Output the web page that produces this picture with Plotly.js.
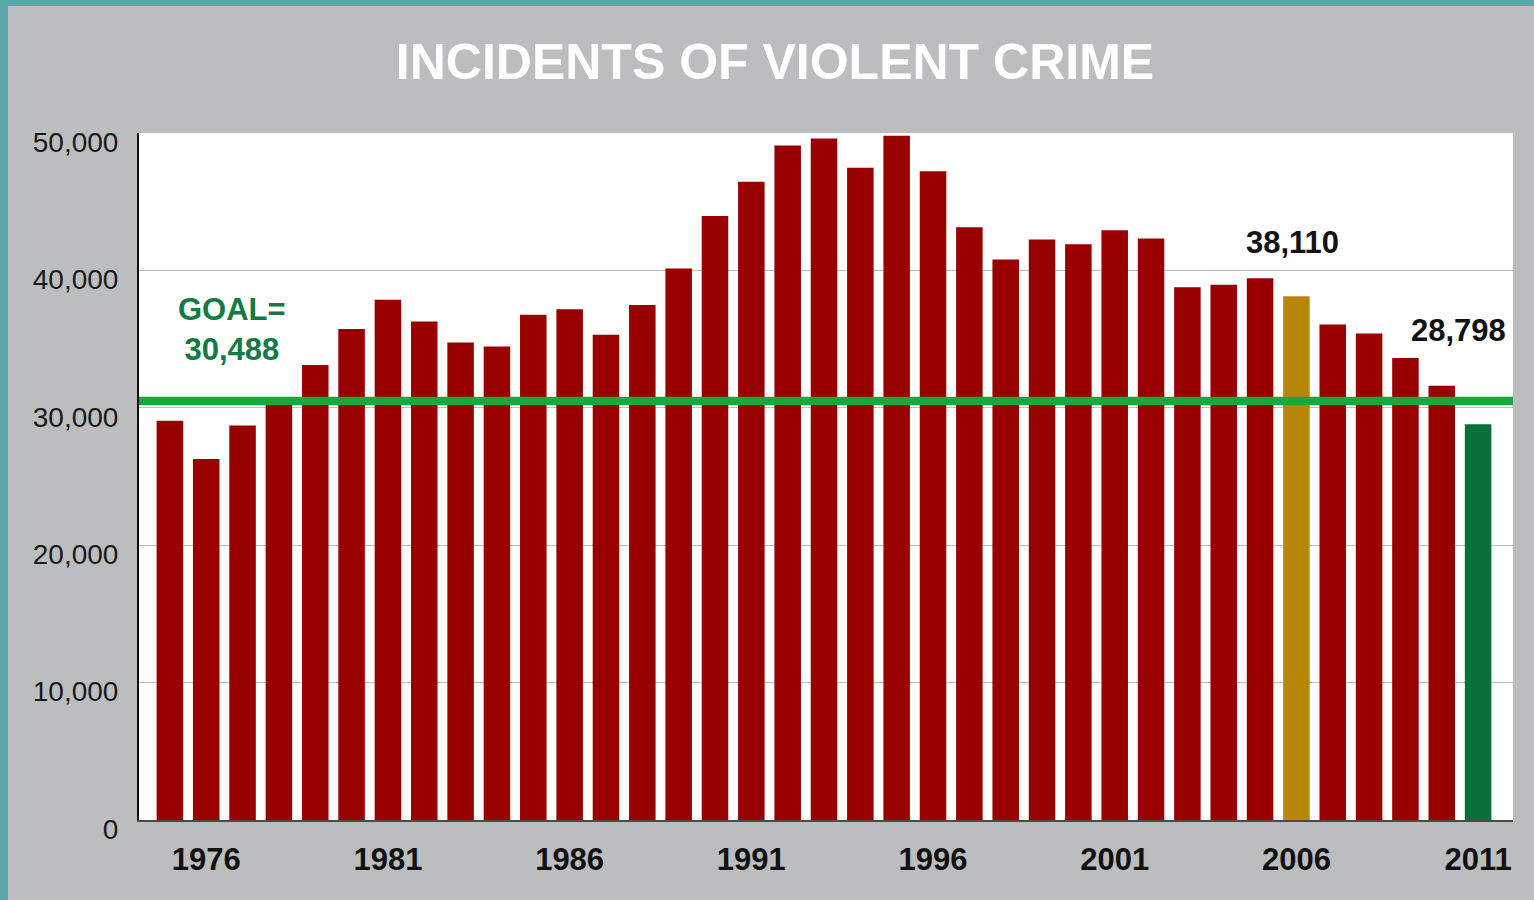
<!DOCTYPE html>
<html>
<head>
<meta charset="utf-8">
<script src="https://cdn.plot.ly/plotly-3.0.1.min.js"></script>
<style>
  html, body { margin: 0; padding: 0; width: 1534px; height: 900px; background: #5ba8ab; overflow: hidden; }
  #chart { position: absolute; left: 8px; top: 6px; width: 1526px; height: 894px; }
</style>
</head>
<body>
<div id="chart"></div>
<script>
// ---- data ----
const years = [1975,1976,1977,1978,1979,1980,1981,1982,1983,1984,1985,1986,1987,1988,1989,1990,1991,1992,1993,1994,1995,1996,1997,1998,1999,2000,2001,2002,2003,2004,2005,2006,2007,2008,2009,2010,2011];
const incidents = [29060,26270,28720,30400,33120,35740,37870,36290,34760,34470,36780,37170,35320,37490,40130,43960,46450,49090,49600,47470,49800,47220,43140,40790,42240,41900,42920,42320,38770,38950,39420,38110,36070,35400,33630,31610,28798];
const goalValue = 30488;
const baselineYear = 2006;
const latestYear = 2011;
const xTickYears = [1976,1981,1986,1991,1996,2001,2006,2011];
const yTickValues = [0,10000,20000,30000,40000,50000];
const yTickLabels = ["0","10,000","20,000","30,000","40,000","50,000"];

// ---- styling ----
const RED = "#990000", GOLD = "#b8860b", DKGREEN = "#08703a", GOALGREEN = "#1aa83c", GOALTEXT = "#137a43";
const barColors = years.map(y => y === baselineYear ? GOLD : (y === latestYear ? DKGREEN : RED));
const fmt = v => v.toLocaleString("en-US");
const baseIdx = years.indexOf(baselineYear);
const lastIdx = years.indexOf(latestYear);

const trace = {
  type: "bar",
  x: years,
  y: incidents,
  marker: { color: barColors, line: { width: 0 } },
  width: 0.73,
  hoverinfo: "x+y"
};

const layout = {
  width: 1526,
  height: 894,
  paper_bgcolor: "#bcbdbf",
  plot_bgcolor: "#ffffff",
  margin: { l: 131, r: 21, t: 127, b: 80 },
  showlegend: false,
  title: {
    text: "INCIDENTS OF VIOLENT CRIME",
    font: { family: "Liberation Sans, Arial, sans-serif", size: 50, color: "#ffffff", weight: 700 },
    xref: "container", yref: "container",
    x: 0.5026, xanchor: "center",
    y: 0.938, yanchor: "middle"
  },
  xaxis: {
    range: [1974.15, 2011.96],
    tickmode: "array",
    tickvals: xTickYears,
    ticktext: xTickYears.map(String),
    ticks: "",
    ticklabelstandoff: 11,
    tickfont: { family: "Liberation Sans, Arial, sans-serif", size: 31, color: "#111111", weight: 700 },
    showgrid: false,
    zeroline: false,
    showline: true,
    linecolor: "#4a4a4a",
    linewidth: 2,
    fixedrange: true
  },
  yaxis: {
    range: [0, 50000],
    tickmode: "array",
    tickvals: yTickValues,
    ticktext: yTickLabels,
    ticks: "",
    ticklabelstandoff: 13,
    ticklabelshift: 9,
    tickfont: { family: "Liberation Sans, Arial, sans-serif", size: 28, color: "#1a1a1a" },
    showgrid: true,
    gridcolor: "#bcbcbc",
    gridwidth: 1.2,
    zeroline: false,
    showline: true,
    linecolor: "#111111",
    linewidth: 2,
    fixedrange: true
  },
  shapes: [
    {
      type: "line", layer: "above",
      xref: "paper", x0: 0, x1: 1,
      yref: "y", y0: goalValue, y1: goalValue,
      line: { color: GOALGREEN, width: 8.5 }
    }
  ],
  annotations: [
    {
      x: years[baseIdx], y: incidents[baseIdx], xref: "x", yref: "y",
      text: fmt(incidents[baseIdx]), showarrow: false,
      xanchor: "center", yanchor: "bottom", xshift: -4, yshift: 34,
      font: { family: "Liberation Sans, Arial, sans-serif", size: 31, color: "#111111", weight: 700 }
    },
    {
      x: years[lastIdx], y: incidents[lastIdx], xref: "x", yref: "y",
      text: fmt(incidents[lastIdx]), showarrow: false,
      xanchor: "center", yanchor: "bottom", xshift: -20, yshift: 74,
      font: { family: "Liberation Sans, Arial, sans-serif", size: 31, color: "#111111", weight: 700 }
    },
    {
      x: 1976.7, y: goalValue, xref: "x", yref: "y",
      text: "GOAL=<br>" + fmt(goalValue), showarrow: false,
      align: "center", xanchor: "center", yanchor: "bottom", yshift: 32,
      font: { family: "Liberation Sans, Arial, sans-serif", size: 31, color: GOALTEXT, weight: 700 }
    }
  ]
};

Plotly.newPlot("chart", [trace], layout, { displayModeBar: false, staticPlot: true });
</script>
</body>
</html>
